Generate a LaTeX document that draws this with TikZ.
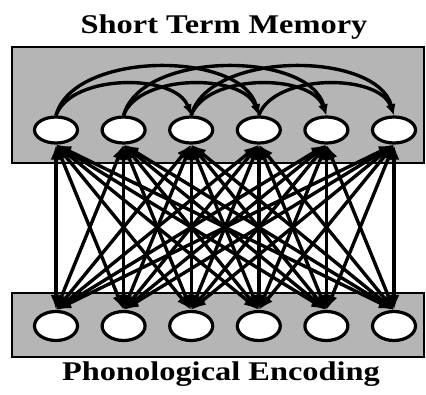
\documentclass[tikz,border=0pt]{standalone}
\usepackage{fontspec}
\newfontfamily\labelfont[FakeStretch=1.2]{Liberation Serif}
\usetikzlibrary{arrows.meta,shapes.geometric}

\begin{document}
\begin{tikzpicture}[x=1pt, y=-1pt,
  layer/.style={draw, line width=2.4pt, fill=gray!58, inner sep=0pt},
  unit/.style={draw, ellipse, line width=3.2pt, fill=white, minimum width=43pt, minimum height=26pt, inner sep=0pt},
  arr/.style={{Latex[length=15pt,width=11pt]}-{Latex[length=15pt,width=11pt]}, line width=3.4pt},
  loop/.style={-{Latex[length=11pt,width=9pt]}, line width=3.4pt},
  ttl/.style={font=\labelfont\bfseries\fontsize{27}{30}\selectfont, anchor=base, inner sep=0pt}
]
\useasboundingbox (0,0) rectangle (426,394);
% the two layers
\node[layer, minimum width=412pt, minimum height=116pt] (stm) at (218,105) {};
\node[layer, minimum width=412pt, minimum height=64pt] (pho) at (218,325) {};
\node[ttl] (stmlbl) at (224,33) {Short Term Memory};
\node[ttl] (pholbl) at (221,380) {Phonological Encoding};
% units
\foreach \i in {1,...,6} {
  \node[unit] (t\i) at ({56+67.6*(\i-1)},130) {};
  \node[unit, minimum height=29pt] (b\i) at ({56+67.6*(\i-1)},326) {};
}
% lateral connections in short term memory
\foreach \i/\j in {1/3,2/4,3/5,4/6}
  \draw[loop] (t\i.north) to[out=70, in=110, looseness=0.85] (t\j.north);
\foreach \i/\j in {1/4,3/6,2/5}
  \draw[loop] (t\i.north) to[out=75, in=105, looseness=0.85] (t\j.north);
% full connections between the layers
\foreach \i in {1,...,6}
  \foreach \j in {1,...,6}
    \draw[arr] (t\i.south) -- (b\j.north);
\end{tikzpicture}
\end{document}
